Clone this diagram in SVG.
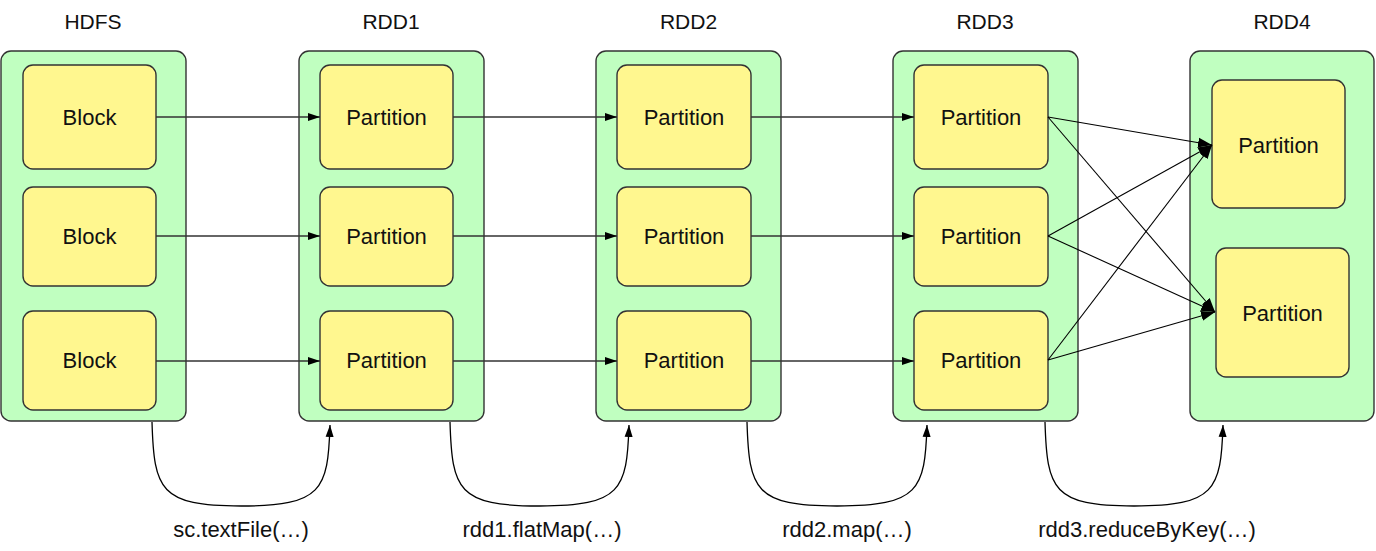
<svg xmlns="http://www.w3.org/2000/svg" width="1376" height="551" viewBox="0 0 1376 551">
<defs>
<style>
text{font-family:"Liberation Sans",Arial,Helvetica,sans-serif;font-size:22px;fill:#111;text-anchor:middle}
text.t{font-size:21px}
.outer{fill:#C0FFC0;stroke:#333;stroke-width:1.4}
.inner{fill:#FFF78F;stroke:#333;stroke-width:1.4}
.h{stroke:#333;stroke-width:1.3;fill:none;marker-end:url(#ah)}
.x{stroke:#000;stroke-width:1.1;fill:none;marker-end:url(#ax)}
.c{stroke:#000;stroke-width:1.3;fill:none;marker-end:url(#ac)}
</style>
<marker id="ah" viewBox="0 0 12 10" refX="12" refY="5" markerWidth="12" markerHeight="10" markerUnits="userSpaceOnUse" orient="auto"><path d="M0,1 L12,5 L0,9 Z" fill="#000"/></marker>
<marker id="ax" viewBox="0 0 14 12" refX="14" refY="6" markerWidth="14" markerHeight="12" markerUnits="userSpaceOnUse" orient="auto"><path d="M0,1 L14,6 L0,11 Z" fill="#000"/></marker>
<marker id="ac" viewBox="0 0 12 10" refX="12" refY="5" markerWidth="12" markerHeight="10" markerUnits="userSpaceOnUse" orient="auto"><path d="M0,1 L12,5 L0,9 Z" fill="#000"/></marker>
</defs>
<rect width="1376" height="551" fill="#fff"/>

<g id="hdfs">
<text class="t" x="93" y="29">HDFS</text>
<rect class="outer" x="1" y="51" width="185" height="370" rx="10"/>
<g id="hdfs-b1"><rect class="inner" x="23" y="65" width="133" height="104" rx="10"/><text x="89.5" y="125">Block</text></g>
<g id="hdfs-b2"><rect class="inner" x="23" y="187" width="133" height="99" rx="10"/><text x="89.5" y="244">Block</text></g>
<g id="hdfs-b3"><rect class="inner" x="23" y="311" width="133" height="99" rx="10"/><text x="89.5" y="368">Block</text></g>
</g>

<g id="rdd1">
<text class="t" x="391" y="29">RDD1</text>
<rect class="outer" x="299" y="51" width="185" height="370" rx="10"/>
<g id="rdd1-p1"><rect class="inner" x="320" y="65" width="133" height="104" rx="10"/><text x="386.5" y="125">Partition</text></g>
<g id="rdd1-p2"><rect class="inner" x="320" y="187" width="133" height="99" rx="10"/><text x="386.5" y="244">Partition</text></g>
<g id="rdd1-p3"><rect class="inner" x="320" y="311" width="133" height="99" rx="10"/><text x="386.5" y="368">Partition</text></g>
</g>

<g id="rdd2">
<text class="t" x="688.5" y="29">RDD2</text>
<rect class="outer" x="596" y="51" width="185" height="370" rx="10"/>
<g id="rdd2-p1"><rect class="inner" x="617" y="65" width="134" height="104" rx="10"/><text x="684" y="125">Partition</text></g>
<g id="rdd2-p2"><rect class="inner" x="617" y="187" width="134" height="99" rx="10"/><text x="684" y="244">Partition</text></g>
<g id="rdd2-p3"><rect class="inner" x="617" y="311" width="134" height="99" rx="10"/><text x="684" y="368">Partition</text></g>
</g>

<g id="rdd3">
<text class="t" x="985" y="29">RDD3</text>
<rect class="outer" x="893" y="51" width="185" height="370" rx="10"/>
<g id="rdd3-p1"><rect class="inner" x="914" y="65" width="134" height="104" rx="10"/><text x="981" y="125">Partition</text></g>
<g id="rdd3-p2"><rect class="inner" x="914" y="187" width="134" height="99" rx="10"/><text x="981" y="244">Partition</text></g>
<g id="rdd3-p3"><rect class="inner" x="914" y="311" width="134" height="99" rx="10"/><text x="981" y="368">Partition</text></g>
</g>

<g id="rdd4">
<text class="t" x="1282" y="29">RDD4</text>
<rect class="outer" x="1190" y="51" width="184" height="370" rx="10"/>
<g id="rdd4-p1"><rect class="inner" x="1212" y="80" width="133" height="128" rx="10"/><text x="1278.5" y="153">Partition</text></g>
<g id="rdd4-p2"><rect class="inner" x="1216" y="248" width="133" height="129" rx="10"/><text x="1282.5" y="321">Partition</text></g>
</g>

<g id="connectors">
<path class="h" d="M156,117 H320"/>
<path class="h" d="M156,236 H320"/>
<path class="h" d="M156,361 H320"/>
<path class="h" d="M453,117 H617"/>
<path class="h" d="M453,236 H617"/>
<path class="h" d="M453,361 H617"/>
<path class="h" d="M751,117 H914"/>
<path class="h" d="M751,236 H914"/>
<path class="h" d="M751,361 H914"/>
<path class="x" d="M1048,117 L1212,145"/>
<path class="x" d="M1048,117 L1215,312"/>
<path class="x" d="M1048,236 L1212,145"/>
<path class="x" d="M1048,236 L1215,312"/>
<path class="x" d="M1048,360 L1212,145"/>
<path class="x" d="M1048,360 L1215,312"/>
<path class="c" d="M152,422 C154,490 160,506 241,506 C322,506 328,490 330,425"/>
<path class="c" d="M450,422 C452,490 458,506 539.5,506 C621,506 627,490 629,425"/>
<path class="c" d="M747,422 C749,490 755,506 837,506 C919,506 925,490 927,425"/>
<path class="c" d="M1045,422 C1047,490 1053,506 1134,506 C1215,506 1221,490 1223,425"/>
</g>

<g id="labels">
<text x="241" y="537">sc.textFile(…)</text>
<text x="542" y="537">rdd1.flatMap(…)</text>
<text x="847" y="537">rdd2.map(…)</text>
<text x="1147" y="537">rdd3.reduceByKey(…)</text>
</g>
</svg>
